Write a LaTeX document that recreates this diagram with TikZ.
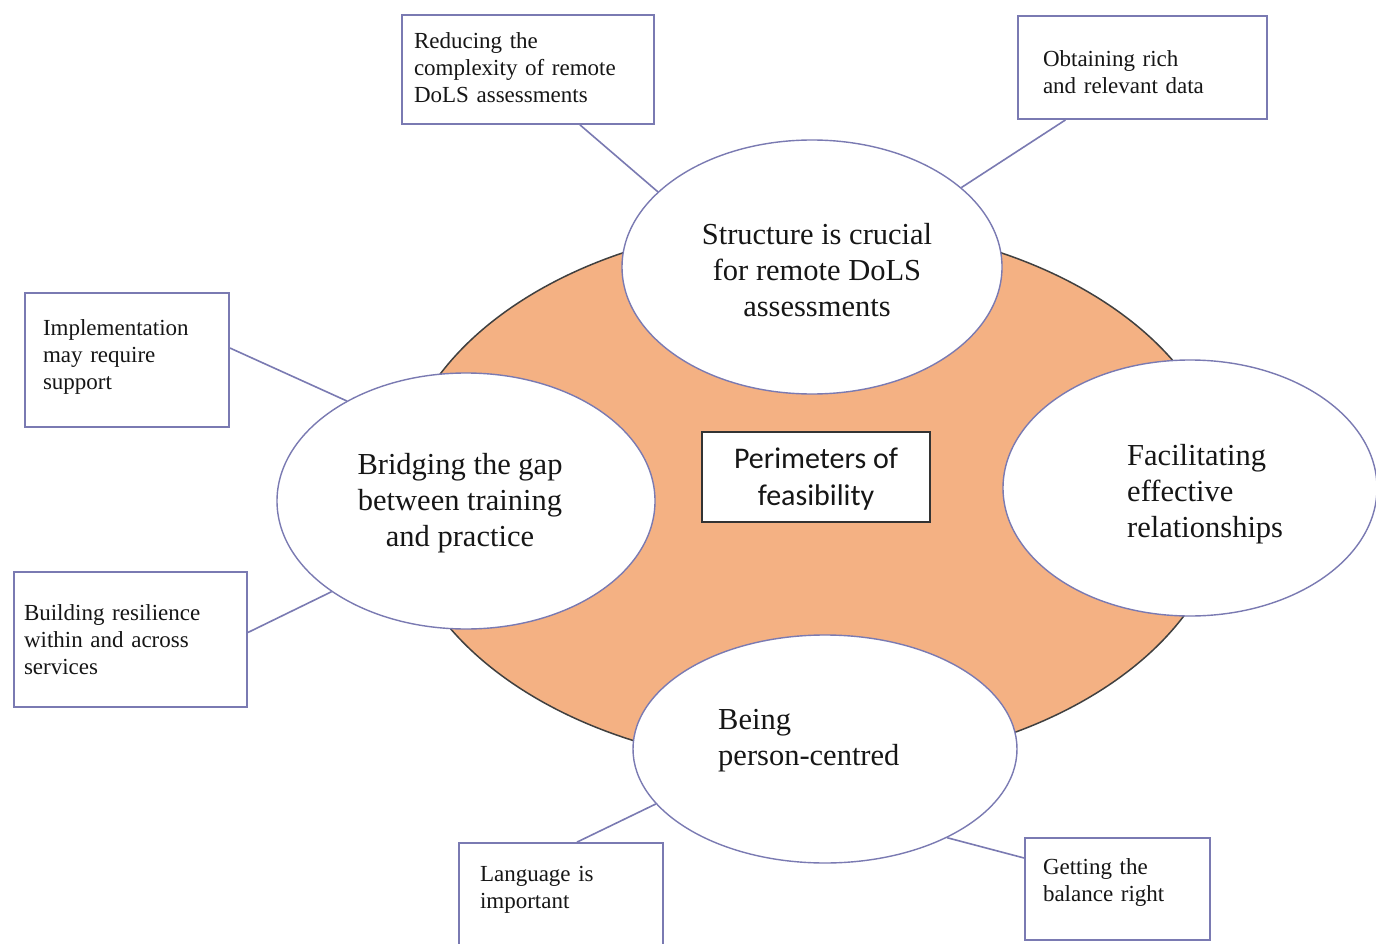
\documentclass[tikz,border=0pt]{standalone}
\usepackage{fontspec}
\setmainfont{LiberationSerif}[Extension=.ttf, UprightFont=*-Regular, BoldFont=*-Bold, ItalicFont=*-Italic]
\newfontfamily\calibrilike{Carlito}
\usetikzlibrary{shapes.geometric}

\definecolor{petal}{RGB}{244,177,131}
\definecolor{rim}{RGB}{122,122,178}
\definecolor{ink}{RGB}{22,22,22}

\begin{document}
\begin{tikzpicture}[x=1pt,y=-1pt,
  bubble/.style={ellipse, draw=rim, line width=1.4pt, fill=white, inner sep=0pt},
  bigtext/.style={font=\rmfamily\fontsize{30.5}{36}\selectfont, text=ink, inner sep=0pt},
  note/.style={rectangle, draw=rim, line width=1.8pt, fill=white, text=ink,
    font=\rmfamily\fontsize{23}{27}\selectfont, align=left, inner ysep=0pt},
  link/.style={draw=rim, line width=1.6pt},
]
\clip (0,0) rectangle (1376,944);
\fill[white] (0,0) rectangle (1376,944);

% central orange field
\node[ellipse, draw=black!75, line width=1.5pt, fill=petal,
  minimum width=830pt, minimum height=544pt, inner sep=0pt] (core) at (812,495) {};

% four theme bubbles
\node[bubble, minimum width=380pt, minimum height=254pt] (st) at (812,267) {};
\node[bubble, minimum width=378pt, minimum height=256pt] (lg) at (466,501) {};
\node[bubble, minimum width=374pt, minimum height=256pt] (fr) at (1190,488) {};
\node[bubble, minimum width=384pt, minimum height=228pt] (be) at (825,749) {};

\node[bigtext, align=center] (st-t) at (817,270) {Structure is crucial\\for remote DoLS\\assessments};
\node[bigtext, align=center] (lg-t) at (460,503) {Bridging the gap\\between training\\and practice};
\node[bigtext, align=left, anchor=west] (fr-t) at (1127,494) {Facilitating\\effective\\relationships};
\node[bigtext, align=left, anchor=west] (be-t) at (718,741) {Being\\person-centred};

% centre label
\node[draw=black!80, line width=2.2pt, fill=white, minimum width=228pt, minimum height=90pt,
  inner sep=0pt, align=center, text=ink, font=\calibrilike\fontsize{30}{37}\selectfont, text depth=1.5pt]
  (pf) at (816,477) {Perimeters of\\feasibility};

% sub-theme notes
\node[note, minimum width=252pt, minimum height=109pt, text width=228pt, inner xsep=12pt, text depth=58pt]
  (r1) at (528,69.5) {Reducing the\\complexity of remote\\DoLS assessments};
\node[note, minimum width=249pt, minimum height=103pt, text width=199pt, inner xsep=25pt, text depth=17pt]
  (r2) at (1142.5,67.5) {Obtaining rich\\and relevant data};
\node[note, minimum width=204pt, minimum height=134pt, text width=168pt, inner xsep=18pt, text depth=64pt]
  (r3) at (127,360) {Implementation\\may require\\support};
\node[note, minimum width=233pt, minimum height=135pt, text width=213pt, inner xsep=10pt]
  (r4) at (130.5,639.5) {Building resilience\\within and across\\services};
\node[note, minimum width=204pt, minimum height=105pt, text width=162pt, inner xsep=21pt, text depth=44pt]
  (r5) at (561,895.5) {Language is\\important};
\node[note, minimum width=185pt, minimum height=102pt, text width=149pt, inner xsep=18pt, text depth=44pt]
  (r6) at (1117.5,889) {Getting the\\balance right};

% connectors
\draw[link] ([xshift=52pt]r1.south) -- (st.154);
\draw[link] ([xshift=-77pt]r2.south) -- (st.28);
\draw[link] ([yshift=12pt]r3.east) -- (lg.140);
\draw[link] ([yshift=7pt]r4.east) -- (lg.214);
\draw[link] ([xshift=16pt]r5.north) -- (be.198);
\draw[link] ([yshift=31pt]r6.west) -- (be.-36);
\end{tikzpicture}
\end{document}
